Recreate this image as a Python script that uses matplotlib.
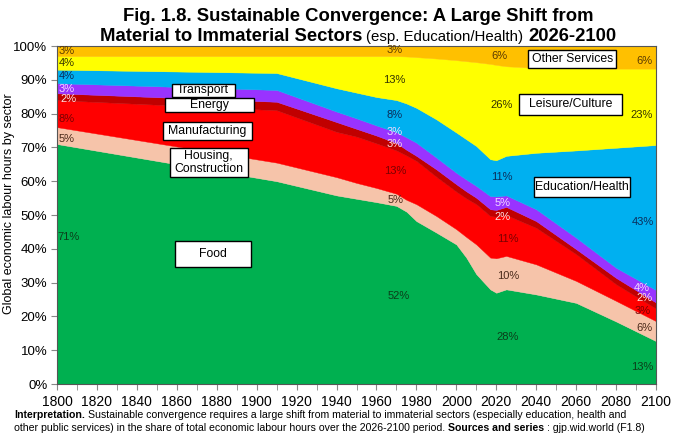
import matplotlib
matplotlib.use('Agg')
import matplotlib.pyplot as plt
from matplotlib.patches import Rectangle
from matplotlib.ticker import MultipleLocator, FuncFormatter

plt.rcParams['font.family'] = ['Liberation Sans', 'DejaVu Sans']

# share of total labour hours by sector (%)
years = [1800, 1910, 1940, 1950, 1960, 1970, 1975, 1980, 1990, 2000, 2005,
         2010, 2017, 2020, 2025, 2040, 2060, 2080, 2100]
food = [71, 60, 55.8, 54.8, 53.8, 52.7, 51, 48.2, 44.8, 41.3, 37.4,
        32.5, 28, 27, 28, 26.5, 24, 18.5, 12.7]
housing = [5, 5.5, 5.4, 4.7, 4.2, 3.6, 3.5, 5.0, 4.9, 4.5, 6.1,
           8.8, 9.4, 10.2, 9.9, 8.9, 6.5, 6.1, 5.9]
manufacturing = [8, 15.5, 13.4, 13.7, 13.2, 12.8, 13.1, 12.8, 11.6, 11.1, 11.4,
                 11.9, 12.3, 12.3, 12.1, 10.8, 7.9, 4.9, 3.7]
energy = [2, 2.5, 2.9, 2.3, 2.3, 2.2, 1.7, 1.5, 2.2, 2.2, 2.1,
          1.9, 2.0, 2.0, 2.4, 2.0, 1.5, 1.9, 1.8]
transport = [3, 3.5, 3.1, 3.1, 3.0, 3.2, 3.7, 3.9, 3.5, 3.4, 3.5,
             3.5, 3.9, 4.0, 3.4, 3.5, 3.4, 3.0, 3.7]
education = [4, 5, 6.9, 7.6, 8.4, 9.5, 10, 10.3, 11.3, 11.9, 11.9,
             11.8, 10.9, 10.7, 11.7, 16.7, 25.8, 35.5, 42.9]
leisure = [4, 5, 9.5, 10.8, 12.1, 13, 13.9, 15, 18, 21.4, 23.1,
           24.8, 28.2, 28.2, 26.5, 25.1, 24.3, 23.4, 22.6]
other = [3, 3, 3, 3, 3, 3, 3.1, 3.3, 3.7, 4.2, 4.5,
         4.8, 5.3, 5.6, 6, 6.5, 6.6, 6.7, 6.7]

colors = ['#00B050', '#F6C4AA', '#FF0000', '#C00000', '#9933FF',
          '#00B0F0', '#FFFF00', '#FFC000']

fig = plt.figure(figsize=(6.8, 4.44), dpi=100)
W, H = 680, 444
ax = fig.add_axes([57/W, 1-384/H, (656-57)/W, (384-46)/H])
ax.stackplot(years, food, housing, manufacturing, energy, transport, education,
             leisure, other, colors=colors, edgecolor='face', linewidth=0.3)
ax.set_xlim(1800, 2100)
ax.set_ylim(0, 100)
ax.xaxis.set_major_locator(MultipleLocator(20))
ax.xaxis.set_minor_locator(MultipleLocator(10))
ax.yaxis.set_major_locator(MultipleLocator(10))
ax.yaxis.set_major_formatter(FuncFormatter(lambda v, p: '%d%%' % v))
ax.tick_params(axis='x', which='both', direction='out', length=4, color='#888888',
               labelsize=10, pad=4)
ax.tick_params(axis='y', direction='out', length=4, color='#888888', labelsize=9.5, pad=3)
for s in ax.spines.values():
    s.set_color('#555555')
    s.set_linewidth(0.8)

rend = fig.canvas.get_renderer()


def fit_size(s, size, target, **kw):
    # font size that gives the text the wanted width in pixels
    t = fig.text(0, 0, s, fontsize=size, **kw)
    w = t.get_window_extent(rend).width
    t.remove()
    return size * target / w


ylab = 'Global economic labour hours by sector'
fig.text(9/W, 1-204/H, ylab, rotation=90, ha='center', va='center',
         fontsize=fit_size(ylab, 10, 222))

# sector name boxes (x0, x1 in years, y0, y1 in %)
boxes = [
    ('Transport', 1857.5, 1889, 84.9, 88.8),
    ('Energy', 1854, 1898.5, 80.5, 84.6),
    ('Manufacturing', 1853, 1897.5, 72.2, 77.5),
    ('Housing,\nConstruction', 1856.5, 1895.5, 61.2, 69.8),
    ('Food', 1859, 1897, 34.6, 42.3),
    ('Other Services', 2036, 2080, 93.5, 98.8),
    ('Leisure/Culture', 2031.5, 2083, 79.6, 85.8),
    ('Education/Health', 2039, 2087, 55.3, 61.2),
]
for name, x0, x1, y0, y1 in boxes:
    ax.add_patch(Rectangle((x0, y0), x1-x0, y1-y0, facecolor='white',
                           edgecolor='black', linewidth=1.0, zorder=3))
    ax.text((x0+x1)/2, (y0+y1)/2, name, ha='center', va='center', fontsize=8.8,
            zorder=4, linespacing=1.05)

# percentage labels
c_other, c_leis, c_edu, c_tr, c_en = '#5A3A00', '#333300', '#0B2D5A', '#F2D9FF', '#FFE0E0'
c_man, c_hou, c_food = '#7A0000', '#4A2A1A', '#0B3D1A'
pct = [
    (1805, 98.6, '3%', c_other), (1805, 95, '4%', c_leis), (1805, 91, '4%', c_edu),
    (1805, 87.4, '3%', c_tr), (1806, 84.4, '2%', c_en), (1805, 78.5, '8%', c_man),
    (1805, 72.5, '5%', c_hou), (1806, 43.5, '71%', c_food),
    (1969, 98.8, '3%', c_other), (1969, 90, '13%', c_leis), (1969, 79.5, '8%', c_edu),
    (1969, 74.5, '3%', c_tr), (1969, 71, '3%', c_en), (1969.5, 63, '13%', c_man),
    (1969.5, 54.5, '5%', c_hou), (1971, 26, '52%', c_food),
    (2021.5, 97, '6%', c_other), (2022.5, 82.5, '26%', c_leis), (2023, 61.3, '11%', c_edu),
    (2023, 53.5, '5%', c_tr), (2023, 49.5, '2%', c_en), (2026, 43, '11%', c_man),
    (2026, 32, '10%', c_hou), (2025.5, 14, '28%', c_food),
    (2094, 95.5, '6%', c_other), (2093, 79.5, '23%', c_leis), (2093.5, 48, '43%', c_edu),
    (2093, 28.5, '4%', c_tr), (2094, 25.3, '2%', c_en), (2093.5, 21.5, '3%', c_man),
    (2094, 16.5, '6%', c_hou), (2093, 5, '13%', c_food),
]
for x, y, s, c in pct:
    ax.text(x, y, s, ha='center', va='center', fontsize=8, color=c, zorder=4)


def runs(y, parts, x=None, cx=W/2):
    objs = [fig.text(0, y, s, va='baseline', **kw) for s, kw in parts]
    ws = [t.get_window_extent(rend).width for t in objs]
    gaps = []
    for s, kw in parts:
        a = fig.text(0, 0, 'x x', **kw)
        b = fig.text(0, 0, 'xx', **kw)
        gaps.append(a.get_window_extent(rend).width - b.get_window_extent(rend).width)
        a.remove()
        b.remove()
    total = sum(ws) + sum(gaps[1:])
    x0 = cx - total / 2 if x is None else x
    for i, (t, w) in enumerate(zip(objs, ws)):
        if i > 0:
            x0 += gaps[i]
        t.set_x(x0 / W)
        x0 += w


t1 = 'Fig. 1.8. Sustainable Convergence: A Large Shift from'
tsize = fit_size(t1, 14, 473, fontweight='bold')
bold = dict(fontsize=tsize, fontweight='bold')
esp = '(esp. Education/Health)'
runs(1-21/H, [(t1, bold)], cx=358)
runs(1-41/H, [('Material to Immaterial Sectors', bold),
              (esp, dict(fontsize=fit_size(esp, 12, 157))),
              ('2026-2100', bold)], cx=358)

l1 = ('Sustainable convergence requires a large shift from material to immaterial '
      'sectors (especially education, health and')
l2 = ('other public services) in the share of total economic labour hours '
      'over the 2026-2100 period.')
s1 = fit_size('Interpretation. ' + l1, 9, 646)
s2 = fit_size(l2 + ' Sources and series : gjp.wid.world (F1.8)', 9, 622)
isize = min(s1, s2)
nb = dict(fontsize=isize, fontweight='bold')
nr = dict(fontsize=isize)
runs(1-418/H, [('Interpretation.', nb), (l1, nr)], x=14)
runs(1-431/H, [(l2, nr), ('Sources and series', nb), (': gjp.wid.world (F1.8)', nr)], x=14)

fig.savefig('out.png', dpi=100)
